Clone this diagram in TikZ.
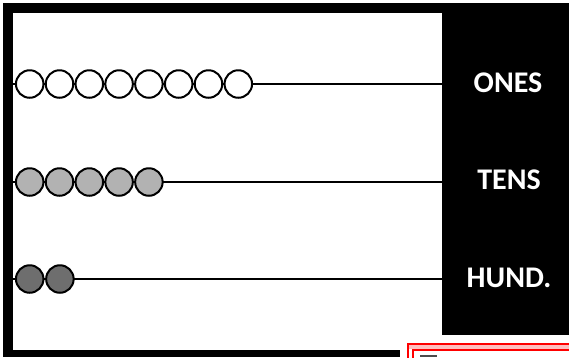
\documentclass[tikz,border=0pt]{standalone}
\usepackage{fontspec}
\setmainfont{Carlito}
\begin{document}
\begin{tikzpicture}[x=1pt,y=-1pt,
  bead/.style={circle,draw=black,line width=2pt,minimum size=27.5pt,inner sep=0pt},
  onesbead/.style={bead,fill=white},
  tensbead/.style={bead,fill=black!30},
  hundbead/.style={bead,fill=black!57},
  wire/.style={line width=2pt},
  label/.style={text=white,font=\fontsize{30}{36}\selectfont\bfseries,inner sep=0pt}]
\useasboundingbox (0,0) rectangle (569,357);
\fill[white] (0,0) rectangle (569,357);
% frame
\fill[black] (3,3) rectangle (13,357);
\fill[black] (3,3) rectangle (443,13);
\fill[black] (3,350) rectangle (400,357);
\fill[black] (442,3) rectangle (569,335);
% red box at bottom right
\draw[red,line width=2pt] (408,344) rectangle (580,370);
\fill[red!25] (409,345) rectangle (580,348.5);
\draw[red,line width=2pt] (413,350) rectangle (580,370);
\fill[black!70] (420,355) rectangle (437,357);
% wires
\coordinate (w1) at (13,84);  \coordinate (e1) at (442,84);
\coordinate (w2) at (13,182); \coordinate (e2) at (442,182);
\coordinate (w3) at (13,279); \coordinate (e3) at (442,279);
\draw[wire] (w1) -- (e1);
\draw[wire] (w2) -- (e2);
\draw[wire] (w3) -- (e3);
% beads
\foreach \i in {0,...,7} \node[onesbead] (o\i) at (29.7+29.8*\i,84) {};
\foreach \i in {0,...,4} \node[tensbead] (t\i) at (29.7+29.8*\i,182) {};
\foreach \i in {0,...,1} \node[hundbead] (h\i) at (29.7+30.2*\i,279) {};
% labels
\node[label] (ones) at (508,83) {ONES};
\node[label] (tens) at (509,180) {TENS};
\node[label] (hund) at (509,278) {HUND.};
\end{tikzpicture}
\end{document}
